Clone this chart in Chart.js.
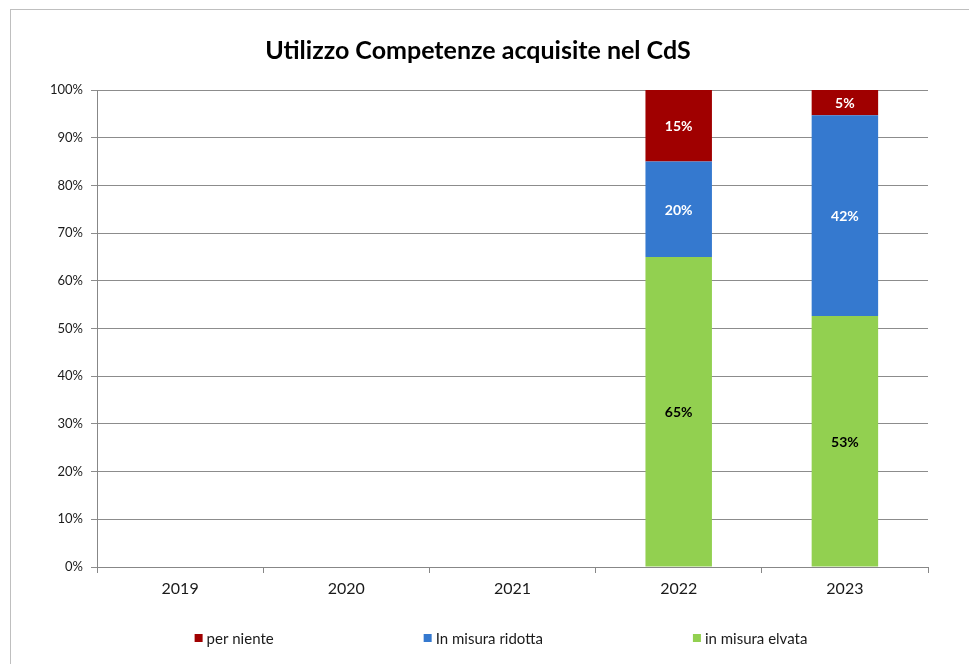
<!DOCTYPE html>
<html>
<head>
<meta charset="utf-8">
<script src="https://cdn.jsdelivr.net/npm/chart.js@4"></script>
<style>
  html, body { margin: 0; padding: 0; background: #fff; overflow: hidden; }
  #frame { position: absolute; left: 10px; top: 9px; width: 1000px; height: 700px; border: 1px solid #bfbfbf; }
  #wrap { position: absolute; left: 0; top: 0; width: 969px; height: 664px; }
</style>
</head>
<body>
<div id="frame"></div>
<div id="wrap"><canvas id="chart" width="969" height="664"></canvas></div>
<script>
const years = ["2019", "2020", "2021", "2022", "2023"];
// shares (%) per year, empty years have no answers
const elevata = [null, null, null, 65, 52.6];
const ridotta = [null, null, null, 20, 42.1];
const perNiente = [null, null, null, 15, 5.3];
const yTicks = [0, 10, 20, 30, 40, 50, 60, 70, 80, 90, 100];

const fontFam = "Lato, 'Open Sans', sans-serif";

// etichette dentro le barre
const barLabels = {
    id: 'barLabels',
    afterDatasetsDraw: (chart) => {
        const ctx = chart.ctx;
        ctx.save();
        ctx.font = "bold 14px " + fontFam;
        ctx.textAlign = "center";
        ctx.textBaseline = "middle";
        chart.data.datasets.forEach((ds, i) => {
            const meta = chart.getDatasetMeta(i);
            meta.data.forEach((bar, j) => {
                const v = ds.data[j];
                if (v == null || v === 0) return;
                const mid = (bar.y + bar.base) / 2;
                ctx.fillStyle = ds.labelColor;
                ctx.fillText(Math.round(v) + "%", bar.x, mid + 1);
            });
        });
        ctx.restore();
    }
};

// legenda in basso, voci molto distanziate come in Excel
const wideLegend = {
    id: 'wideLegend',
    afterDraw: (chart) => {
        const ctx = chart.ctx;
        const items = chart.data.datasets.slice().reverse();
        const box = 8, gapText = 4, gapItem = 150;
        ctx.save();
        ctx.font = "15px " + fontFam;
        ctx.textBaseline = "middle";
        const widths = items.map(d => box + gapText + ctx.measureText(d.label).width);
        const total = widths.reduce((a, b) => a + b, 0) + gapItem * (items.length - 1);
        let x = 501 - total / 2;
        const y = 638;
        items.forEach((d, i) => {
            ctx.fillStyle = d.backgroundColor;
            ctx.fillRect(x, y - box / 2, box, box);
            ctx.fillStyle = "#1a1a1a";
            ctx.fillText(d.label, x + box + gapText, y + 1);
            x += widths[i] + gapItem;
        });
        ctx.restore();
    }
};

new Chart(document.getElementById("chart"), {
    type: "bar",
    data: {
        labels: years,
        datasets: [
            { label: "in misura elvata", data: elevata, backgroundColor: "#92D050", labelColor: "#000" },
            { label: "In misura ridotta", data: ridotta, backgroundColor: "#3579CF", labelColor: "#fff" },
            { label: "per niente", data: perNiente, backgroundColor: "#A00000", labelColor: "#fff" }
        ]
    },
    plugins: [barLabels, wideLegend],
    options: {
        responsive: false,
        animation: false,
        events: [],
        layout: { padding: { left: 28, right: 41, top: 0, bottom: 57 } },
        datasets: { bar: { categoryPercentage: 1, barPercentage: 0.4, borderWidth: 0 } },
        plugins: {
            legend: { display: false },
            tooltip: { enabled: false },
            title: {
                display: true,
                text: "Utilizzo Competenze acquisite nel CdS",
                color: "#000",
                font: { family: fontFam, size: 25, weight: "bold" },
                padding: { top: 36, bottom: 24 }
            }
        },
        scales: {
            x: {
                stacked: true,
                afterFit: (s) => { s.height = 40; },
                grid: { display: true, drawOnChartArea: false, offset: true, tickLength: 6, color: "#878787" },
                border: { color: "#878787" },
                ticks: { color: "#1a1a1a", padding: 6, font: { family: fontFam, size: 16 } }
            },
            y: {
                stacked: true,
                min: 0,
                max: 100,
                afterFit: (s) => { s.width = 69; },
                afterBuildTicks: (s) => { s.ticks = yTicks.map(v => ({ value: v })); },
                grid: { color: "#8c8c8c", tickLength: 6 },
                border: { color: "#878787" },
                ticks: {
                    color: "#1a1a1a",
                    padding: 8,
                    font: { family: fontFam, size: 13 },
                    callback: (v) => v + "%"
                }
            }
        }
    }
});
</script>
</body>
</html>
